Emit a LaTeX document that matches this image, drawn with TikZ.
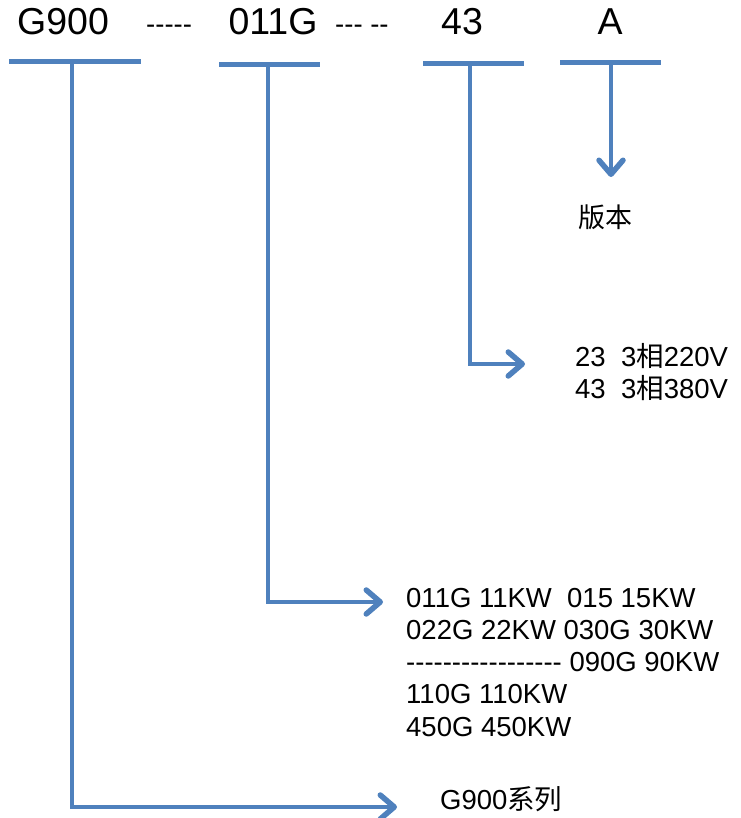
\documentclass[tikz,border=0pt]{standalone}
\usepackage{fontspec}
\newfontfamily\af{Liberation Sans}
\newfontfamily\cjk{Noto Sans CJK SC}
\usetikzlibrary{arrows.meta}
\definecolor{lineblue}{HTML}{4F81BD}
\begin{document}
\begin{tikzpicture}[x=1pt,y=-1pt,
  bar/.style={draw=lineblue,line width=5pt},
  conn/.style={draw=lineblue,line width=4.5pt,-{Straight Barb[length=14pt,width=24pt,line width=5.5pt,round]}},
  big/.style={font=\af\fontsize{37.5}{44}\selectfont,inner sep=0pt,anchor=base},
  dashtxt/.style={font=\af\fontsize{27.5}{33}\selectfont,inner sep=0pt,anchor=base west},
  small/.style={font=\af\fontsize{27.5}{33}\selectfont,inner sep=0pt,anchor=base west}]
\useasboundingbox (0,0) rectangle (740,818);
% top labels
\node[big] (tG) at (63,35) {G900};
\node[dashtxt] (tD1) at (146,34) {-----};
\node[big] (t011) at (273,35) {011G};
\node[dashtxt] (tD2) at (335,34) {--- --};
\node[big] (t43) at (462,35) {43};
\node[big] (tA) at (610,35) {A};
% bars
\coordinate (b1l) at (9,61.5);  \coordinate (b1r) at (141,61.5);
\coordinate (b2l) at (219,65);  \coordinate (b2r) at (320,65);
\coordinate (b3l) at (423,64);  \coordinate (b3r) at (524,64);
\coordinate (b4l) at (560,63);  \coordinate (b4r) at (661,63);
\draw[bar] (b1l) -- (b1r);
\draw[bar] (b2l) -- (b2r);
\draw[bar] (b3l) -- (b3r);
\draw[bar] (b4l) -- (b4r);
% connector starts and ends
\coordinate (m1) at (72,61.5);  \coordinate (e1) at (397,807);
\coordinate (m2) at (268,65);   \coordinate (e2) at (383,602);
\coordinate (m3) at (470,64);   \coordinate (e3) at (525,364);
\coordinate (m4) at (611,63);   \coordinate (e4) at (611,177);
\draw[conn] (m1) |- (e1);
\draw[conn] (m2) |- (e2);
\draw[conn] (m3) |- (e3);
\draw[conn] (m4) -- (e4);
% descriptions
\node[font=\cjk\fontsize{27}{27}\selectfont,inner sep=0pt] (ver) at (605,217) {版本};
\node[small] (v1) at (575,366) {23\ \ 3{\cjk 相}220V};
\node[small] (v2) at (575,398) {43\ \ 3{\cjk 相}380V};
\node[small] (p1) at (406,607) {011G 11KW\ \ 015 15KW};
\node[small] (p2) at (406,639) {022G 22KW 030G 30KW};
\node[small] (p3) at (406,671) {----------------- 090G 90KW};
\node[small] (p4) at (406,703) {110G 110KW};
\node[small] (p5) at (406,736) {450G 450KW};
\node[small] (ser) at (440,809) {G900{\cjk 系列}};
\end{tikzpicture}
\end{document}
